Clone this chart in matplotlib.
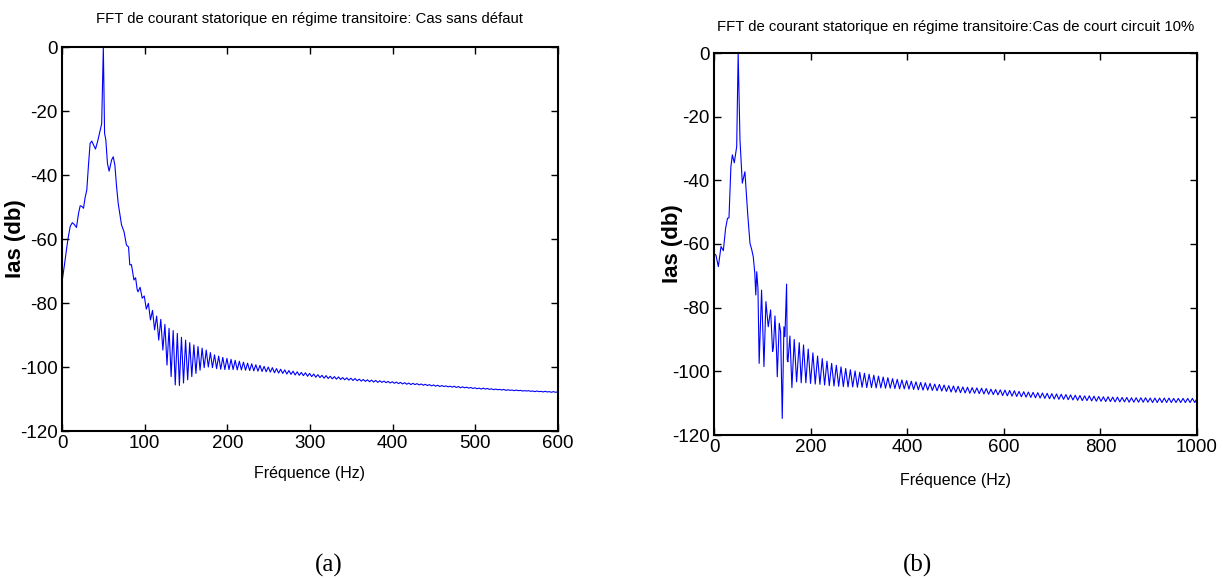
import numpy as np
import matplotlib
matplotlib.use('Agg')
import matplotlib.pyplot as plt

plt.rcParams['font.family'] = ['Liberation Sans', 'DejaVu Sans']
plt.rcParams['axes.unicode_minus'] = False

# (a) cas sans defaut : forme basse frequence
a_base_f = [0, 3, 7, 10, 12.5, 15, 17.5, 20, 22, 24, 26, 28, 30, 32, 34, 36, 38, 40.5,
            43, 46.5, 48, 50, 51.5, 53, 55, 57, 60, 62, 64, 66, 68, 72, 75, 78, 80.5,
            82, 84, 87, 89, 91]
a_base_db = [-73.5, -68.0, -60.3, -56.0, -54.9, -55.5, -56.4, -52.0, -49.6, -49.8, -50.4,
             -47.0, -44.7, -37.0, -30.1, -29.4, -30.5, -31.9, -29.6, -25.7, -24.0, 0.0,
             -27.0, -29.0, -36.4, -38.8, -35.3, -34.3, -37.0, -43.6, -48.9, -55.6, -57.7,
             -61.9, -62.5, -68.1, -68.0, -72.8, -72.1, -75.9]

# (a) ondulations, creux / pics tous les 2.5 Hz a partir de 92 Hz
a_ripple_start, a_ripple_step = 92.0, 2.5
a_ripple_db = [
    -76.5, -75.1, -78.5, -77.8, -81.9, -80.1, -85.3, -82.3, -88.4, -84.1,
    -91.6, -85.1, -94.7, -86.7, -99.4, -87.9, -103.0, -88.6, -105.6, -89.5,
    -105.8, -90.7, -105.0, -91.6, -104.0, -92.4, -103.0, -93.1, -102.0, -93.6,
    -101.0, -94.1, -100.2, -94.7, -100.0, -95.5, -100.2, -96.2, -100.5, -96.6,
    -100.7, -97.0, -100.8, -97.3, -100.8, -97.6, -100.8, -97.9, -100.9, -98.2,
    -100.9, -98.5, -101.0, -98.8, -101.1, -99.0, -101.2, -99.3, -101.3, -99.5,
    -101.4, -99.8, -101.5, -100.0, -101.6, -100.2, -101.8, -100.5, -101.9, -100.7,
    -102.0, -100.9, -102.2, -101.1, -102.3, -101.3, -102.5, -101.5, -102.6, -101.7,
    -102.7, -101.8, -102.9, -102.0, -103.0, -102.2, -103.2, -102.4, -103.3, -102.6,
    -103.5, -102.7, -103.6, -102.9, -103.7, -103.0, -103.8, -103.1, -103.9, -103.3,
    -104.0, -103.4, -104.1, -103.5, -104.2, -103.6, -104.3, -103.8, -104.4, -103.9,
    -104.5, -104.0, -104.6, -104.1, -104.7, -104.2, -104.8, -104.3, -104.8, -104.4,
    -104.9, -104.5, -105.0, -104.6, -105.1, -104.7, -105.2, -104.8, -105.3, -104.9,
    -105.4, -105.0, -105.5, -105.1, -105.5, -105.2, -105.6, -105.3, -105.7, -105.4,
    -105.8, -105.5, -105.9, -105.6, -106.0, -105.7, -106.1, -105.8, -106.1, -105.9,
    -106.2, -106.0, -106.3, -106.0, -106.4, -106.1, -106.5, -106.2, -106.5, -106.3,
    -106.6, -106.4, -106.7, -106.5, -106.8, -106.6, -106.9, -106.6, -106.9, -106.7,
    -107.0, -106.8, -107.1, -106.9, -107.1, -107.0, -107.2, -107.0, -107.3, -107.1,
    -107.3, -107.2, -107.4, -107.2, -107.4, -107.3, -107.5, -107.4, -107.5, -107.4,
    -107.6, -107.5, -107.7, -107.5, -107.7, -107.6, -107.8, -107.6, -107.8, -107.7,
    -107.9, -107.7, -107.9, -107.8,
]

# (b) court circuit 10% : forme basse frequence
b_base_f = [0, 4, 9, 14.5, 19.3, 24, 28, 31, 35, 38, 42, 47, 50, 53.8, 58.6, 64, 69.7,
            74.5, 78, 81.3, 84.5, 86.5, 88.5, 91, 93.5, 98.5, 103.4, 107.5, 112.3, 117.2,
            121.3, 123, 126.2, 129.6, 131, 135.1, 137.9, 141.3, 144.8, 146.8, 150.3,
            151.7, 153, 157.2, 161.3, 166.1, 171, 176.5]
b_base_db = [-63.0, -63.5, -67.1, -60.8, -62.1, -55.1, -51.9, -51.8, -35.7, -32.0, -34.5,
             -29.4, 0.0, -27.3, -40.9, -37.3, -50.4, -59.8, -61.7, -64.0, -69.2, -76.0,
             -68.7, -74.0, -97.5, -74.5, -98.5, -78.1, -86.0, -80.7, -93.8, -92.5, -82.6,
             -94.3, -101.7, -84.9, -87.5, -114.8, -86.0, -89.1, -72.6, -96.4, -97.0,
             -88.9, -105.1, -90.0, -103.3, -91.0]

# (b) ondulations, creux / pics tous les 4.85 Hz a partir de 180.5 Hz
b_ripple_start, b_ripple_step = 180.5, 4.85
b_ripple_db = [
    -103.6, -91.7, -103.6, -93.0, -103.8, -94.2, -104.0, -95.2, -104.1, -96.0,
    -104.3, -96.8, -104.5, -97.5, -104.6, -98.1, -104.7, -98.6, -104.8, -99.1,
    -104.9, -99.5, -104.9, -99.9, -105.0, -100.3, -105.0, -100.6, -105.1, -100.9,
    -105.1, -101.2, -105.2, -101.5, -105.2, -101.8, -105.3, -102.0, -105.3, -102.3,
    -105.4, -102.5, -105.5, -102.7, -105.5, -102.9, -105.6, -103.1, -105.7, -103.3,
    -105.8, -103.5, -105.9, -103.6, -105.9, -103.8, -106.0, -104.0, -106.1, -104.1,
    -106.2, -104.3, -106.3, -104.5, -106.5, -104.6, -106.6, -104.7, -106.7, -104.9,
    -106.8, -105.0, -106.9, -105.1, -106.9, -105.2, -107.0, -105.3, -107.1, -105.4,
    -107.2, -105.6, -107.3, -105.7, -107.4, -105.8, -107.6, -105.9, -107.7, -106.0,
    -107.8, -106.1, -107.9, -106.3, -108.0, -106.4, -108.1, -106.5, -108.2, -106.6,
    -108.3, -106.7, -108.4, -106.8, -108.5, -106.9, -108.6, -107.0, -108.7, -107.1,
    -108.8, -107.2, -108.8, -107.3, -108.9, -107.4, -109.0, -107.5, -109.1, -107.6,
    -109.2, -107.7, -109.2, -107.7, -109.3, -107.8, -109.4, -107.9, -109.4, -108.0,
    -109.5, -108.0, -109.5, -108.1, -109.6, -108.1, -109.6, -108.2, -109.6, -108.2,
    -109.7, -108.3, -109.7, -108.3, -109.7, -108.3, -109.7, -108.3, -109.7, -108.4,
    -109.8, -108.4, -109.8, -108.4, -109.8, -108.4, -109.8, -108.4, -109.8, -108.5,
    -109.8, -108.5, -109.8, -108.5, -109.8, -108.5, -109.8, -108.5, -109.8, -108.5,
]

titles = ["FFT de courant statorique en régime transitoire: Cas sans défaut",
          "FFT de courant statorique en régime transitoire:Cas de court circuit 10%"]
xlims = [600, 1000]
xsteps = [100, 200]
panel_labels = ["(a)", "(b)"]


def build(base_f, base_db, start, step, ripple_db):
    rf = start + step * np.arange(len(ripple_db))
    f = np.concatenate([base_f, rf])
    db = np.concatenate([base_db, ripple_db])
    return f, db


curves = [build(a_base_f, a_base_db, a_ripple_start, a_ripple_step, a_ripple_db),
          build(b_base_f, b_base_db, b_ripple_start, b_ripple_step, b_ripple_db)]

fig = plt.figure(figsize=(12.23, 5.79), dpi=100)
rects = [[62 / 1223, 148 / 579, 496 / 1223, 384 / 579],
         [714 / 1223, 144 / 579, 483 / 1223, 382 / 579]]
label_x = [329 / 1223, 918 / 1223]
ylabel_x = [-0.072, -0.064]
title_pad = [17, 16]
xlabel_pad = [10, 12]

for i in range(2):
    ax = fig.add_axes(rects[i])
    f, db = curves[i]
    ax.plot(f, db, color='#0000ff', linewidth=0.8)
    ax.set_xlim(0, xlims[i])
    ax.set_ylim(-120, 0)
    ax.set_xticks(np.arange(0, xlims[i] + 1, xsteps[i]))
    ax.set_yticks(np.arange(-120, 1, 20))
    ax.tick_params(direction='in', top=True, right=True, length=5, width=1,
                   labelsize=13.5, pad=3)
    for s in ax.spines.values():
        s.set_linewidth(1.5)
    ax.set_title(titles[i], fontsize=10.7, pad=title_pad[i])
    ax.set_xlabel("Fréquence (Hz)", fontsize=11.5, labelpad=xlabel_pad[i])
    ax.set_ylabel("Ias (db)", fontsize=16, fontweight='bold')
    ax.yaxis.set_label_coords(ylabel_x[i], 0.5)
    fig.text(label_x[i], 14 / 579, panel_labels[i],
             ha='center', va='center', fontsize=18, family=['Liberation Serif', 'DejaVu Serif'])

fig.savefig('out.png', dpi=100)
